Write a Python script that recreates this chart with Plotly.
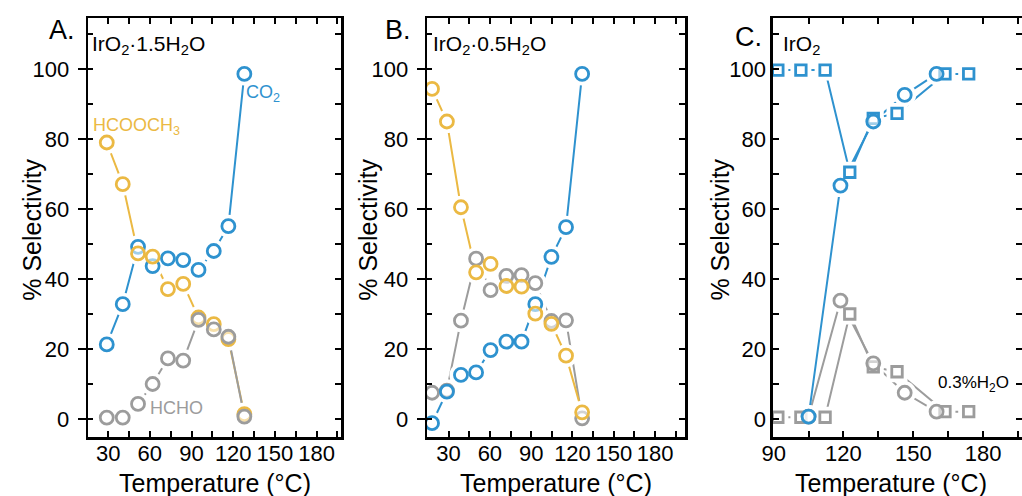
import plotly.graph_objects as go

W, H = 1022, 496
BLUE = '#2e92cf'
YELLOW = '#ebb943'
GRAY = '#9c9c9c'
FONT = 'Liberation Sans, Arial, Helvetica, sans-serif'

# ---------------- data ----------------
# Panel A: IrO2·1.5H2O
temp_A = [29, 40.5, 51.5, 62, 73, 84, 95, 106, 116.5, 128]
co2_A = [21.3, 32.8, 49.2, 43.7, 45.9, 45.4, 42.6, 48.0, 55.1, 98.6]
hcooch3_A = [79.0, 67.1, 47.3, 46.4, 37.1, 38.6, 29.0, 27.1, 22.8, 1.4]
hcho_A = [0.4, 0.4, 4.3, 10.0, 17.3, 16.7, 28.3, 25.6, 23.5, 0.7]

# Panel B: IrO2·0.5H2O
temp_B = [18, 28.8, 39, 50, 60.5, 72, 83, 93, 104.7, 115.3, 127]
co2_B = [-1.2, 7.8, 12.6, 13.3, 19.7, 22.1, 22.1, 32.8, 46.3, 54.8, 98.6]
hcooch3_B = [94.3, 85.0, 60.5, 41.9, 44.3, 38.0, 37.8, 30.1, 27.2, 18.1, 1.9]
hcho_B = [7.5, 8.1, 28.1, 45.8, 36.8, 40.9, 41.1, 38.8, 28.0, 28.2, 0.2]

# Panel C: IrO2 (squares: 0.3% H2O, circles: dry)
temp_C_sq = [91.8, 101.7, 112.1, 122.7, 132.8, 143.0, 163.6, 173.8]
co2_C_sq = [99.7, 99.7, 99.7, 70.5, 85.9, 87.3, 98.6, 98.6]
hcho_C_sq = [0.5, 0.5, 0.5, 30.0, 14.9, 13.5, 2.1, 2.1]
temp_C_ci = [105, 118.7, 132.8, 146.3, 160.0]
co2_C_ci = [0.7, 66.7, 85.0, 92.6, 98.6]
hcho_C_ci = [0.7, 33.8, 15.9, 7.5, 2.1]

x_ticks = [30, 60, 90, 120, 150, 180]
y_ticks = [0, 20, 40, 60, 80, 100]

# ---------------- layout geometry ----------------
def fx(p):
    return p / W

def fy(p):
    return 1 - p / H

ydom = [fy(437), fy(18)]
yrng = [-5.14, 114.57]
panels = [
    dict(x='x', y='y', xo='x4', yo='y4', dom=[fx(77), fx(333)], xr=[15.57, 197.6], outside=True,
         series=[(temp_A, co2_A, BLUE, 'circle'), (temp_A, hcooch3_A, YELLOW, 'circle'),
                 (temp_A, hcho_A, GRAY, 'circle')]),
    dict(x='x2', y='y2', xo='x5', yo='y5', dom=[fx(420), fx(681)], xr=[14.4, 201.7], outside=True,
         series=[(temp_B, hcho_B, GRAY, 'circle'), (temp_B, co2_B, BLUE, 'circle'),
                 (temp_B, hcooch3_B, YELLOW, 'circle')]),
    dict(x='x3', y='y3', xo='x6', yo='y6', dom=[fx(770), 1.0], xr=[89.7, 196.7], outside=False,
         series=[(temp_C_sq, hcho_C_sq, GRAY, 'square'), (temp_C_ci, hcho_C_ci, GRAY, 'circle'),
                 (temp_C_sq, co2_C_sq, BLUE, 'square'), (temp_C_ci, co2_C_ci, BLUE, 'circle')]),
]

fig = go.Figure()
MSIZE = {'circle': 13, 'square': 10.5}
HSIZE = {'circle': 23, 'square': 21}

for p in panels:
    for (xs, ys, c, sym) in p['series']:
        fig.add_trace(go.Scatter(x=xs, y=ys, mode='lines', line=dict(color=c, width=2),
                                 xaxis=p['x'], yaxis=p['y'], hoverinfo='skip', showlegend=False))
    for (xs, ys, c, sym) in p['series']:
        fig.add_trace(go.Scatter(x=xs, y=ys, mode='markers',
                                 marker=dict(symbol=sym, size=HSIZE[sym], color='white',
                                             line=dict(width=0)),
                                 xaxis=p['x'], yaxis=p['y'], hoverinfo='skip', showlegend=False))
    for (xs, ys, c, sym) in p['series']:
        fig.add_trace(go.Scatter(x=xs, y=ys, mode='markers',
                                 marker=dict(symbol=sym, size=MSIZE[sym], color='rgba(255,255,255,0.55)',
                                             line=dict(color=c, width=2.8)),
                                 xaxis=p['x'], yaxis=p['y'], hoverinfo='skip', showlegend=False))
    # dummy traces so the mirror axes are drawn
    fig.add_trace(go.Scatter(x=[None], y=[None], xaxis=p['xo'], yaxis=p['y'], hoverinfo='skip', showlegend=False))
    fig.add_trace(go.Scatter(x=[None], y=[None], xaxis=p['x'], yaxis=p['yo'], hoverinfo='skip', showlegend=False))

tickfont = dict(family=FONT, size=22, color='black')
common = dict(showgrid=False, zeroline=False, showline=True, linecolor='black', linewidth=2.5,
              tickcolor='black', tickwidth=2, fixedrange=True)

layout = dict(width=W, height=H, margin=dict(l=0, r=0, t=0, b=0), autosize=False,
              paper_bgcolor='white', plot_bgcolor='white', showlegend=False, hovermode=False,
              font=dict(family=FONT, color='black'))

for p in panels:
    xk = 'xaxis' + p['x'][1:]
    yk = 'yaxis' + p['y'][1:]
    xok = 'xaxis' + p['xo'][1:]
    yok = 'yaxis' + p['yo'][1:]
    layout[xk] = dict(common, domain=p['dom'], range=p['xr'], anchor=p['y'],
                      tickmode='array', tickvals=x_ticks, ticktext=[str(v) for v in x_ticks],
                      ticks='inside', ticklen=6, tickfont=tickfont, ticklabelstandoff=-5,
                      minor=dict(tick0=0, dtick=15, ticks='inside', ticklen=6, tickwidth=2,
                                 tickcolor='black', showgrid=False))
    if p['outside']:
        layout[yk] = dict(common, domain=ydom, range=yrng, anchor=p['x'],
                          tickmode='array', tickvals=y_ticks, ticktext=[str(v) for v in y_ticks],
                          ticks='outside', ticklen=8, tickfont=tickfont, ticklabelstandoff=4,
                          minor=dict(tick0=0, dtick=10, ticks='inside', ticklen=5, tickwidth=2,
                                     tickcolor='black', showgrid=False))
    else:
        layout[yk] = dict(common, domain=ydom, range=yrng, anchor=p['x'],
                          tickmode='array', tickvals=y_ticks, ticktext=[str(v) for v in y_ticks],
                          ticks='inside', ticklen=6, tickfont=tickfont,
                          minor=dict(tick0=0, dtick=10, ticks='inside', ticklen=6, tickwidth=2,
                                     tickcolor='black', showgrid=False))
    layout[xok] = dict(common, overlaying=p['x'], side='top', anchor=p['y'], range=p['xr'],
                       tick0=0, dtick=15, ticks='inside', ticklen=6, showticklabels=False)
    layout[yok] = dict(common, overlaying=p['y'], side='right', anchor=p['x'], range=yrng,
                       tick0=0, dtick=10, ticks='inside', ticklen=6, showticklabels=False,
                       showline=p['outside'])

ann = []

def text(x, y, s, size, color='black', xanchor='center', angle=0):
    ann.append(dict(x=fx(x), y=fy(y), xref='paper', yref='paper', text=s, showarrow=False,
                    xanchor=xanchor, yanchor='middle', textangle=angle,
                    font=dict(family=FONT, size=size, color=color)))

# panel letters
text(51, 30, 'A.', 27)
text(391, 30, 'B.', 27)
text(745, 37, 'C.', 27)
# sample names
text(79, 45, 'IrO<sub>2</sub>·1.5H<sub>2</sub>O', 21, xanchor='left')
text(424, 45, 'IrO<sub>2</sub>·0.5H<sub>2</sub>O', 21, xanchor='left')
text(778, 45, 'IrO<sub>2</sub>', 21, xanchor='left')
# series labels
text(235, 93, 'CO<sub>2</sub>', 18, BLUE, xanchor='left')
text(80, 126, 'HCOOCH<sub>3</sub>', 18, YELLOW, xanchor='left')
text(138, 408, 'HCHO', 18, GRAY, xanchor='left')
text(935, 384, '0.3%H<sub>2</sub>O', 17, xanchor='left')
# axis titles
for cx in (205, 550.5, 889):
    text(cx, 483, 'Temperature (°C)', 25)
for cx in (20, 360, 716):
    text(cx, 230, '% Selectivity', 25, angle=-90)

layout['annotations'] = ann
fig.update_layout(**layout)

fig.write_html('out.html', config=dict(displayModeBar=False, staticPlot=True))
